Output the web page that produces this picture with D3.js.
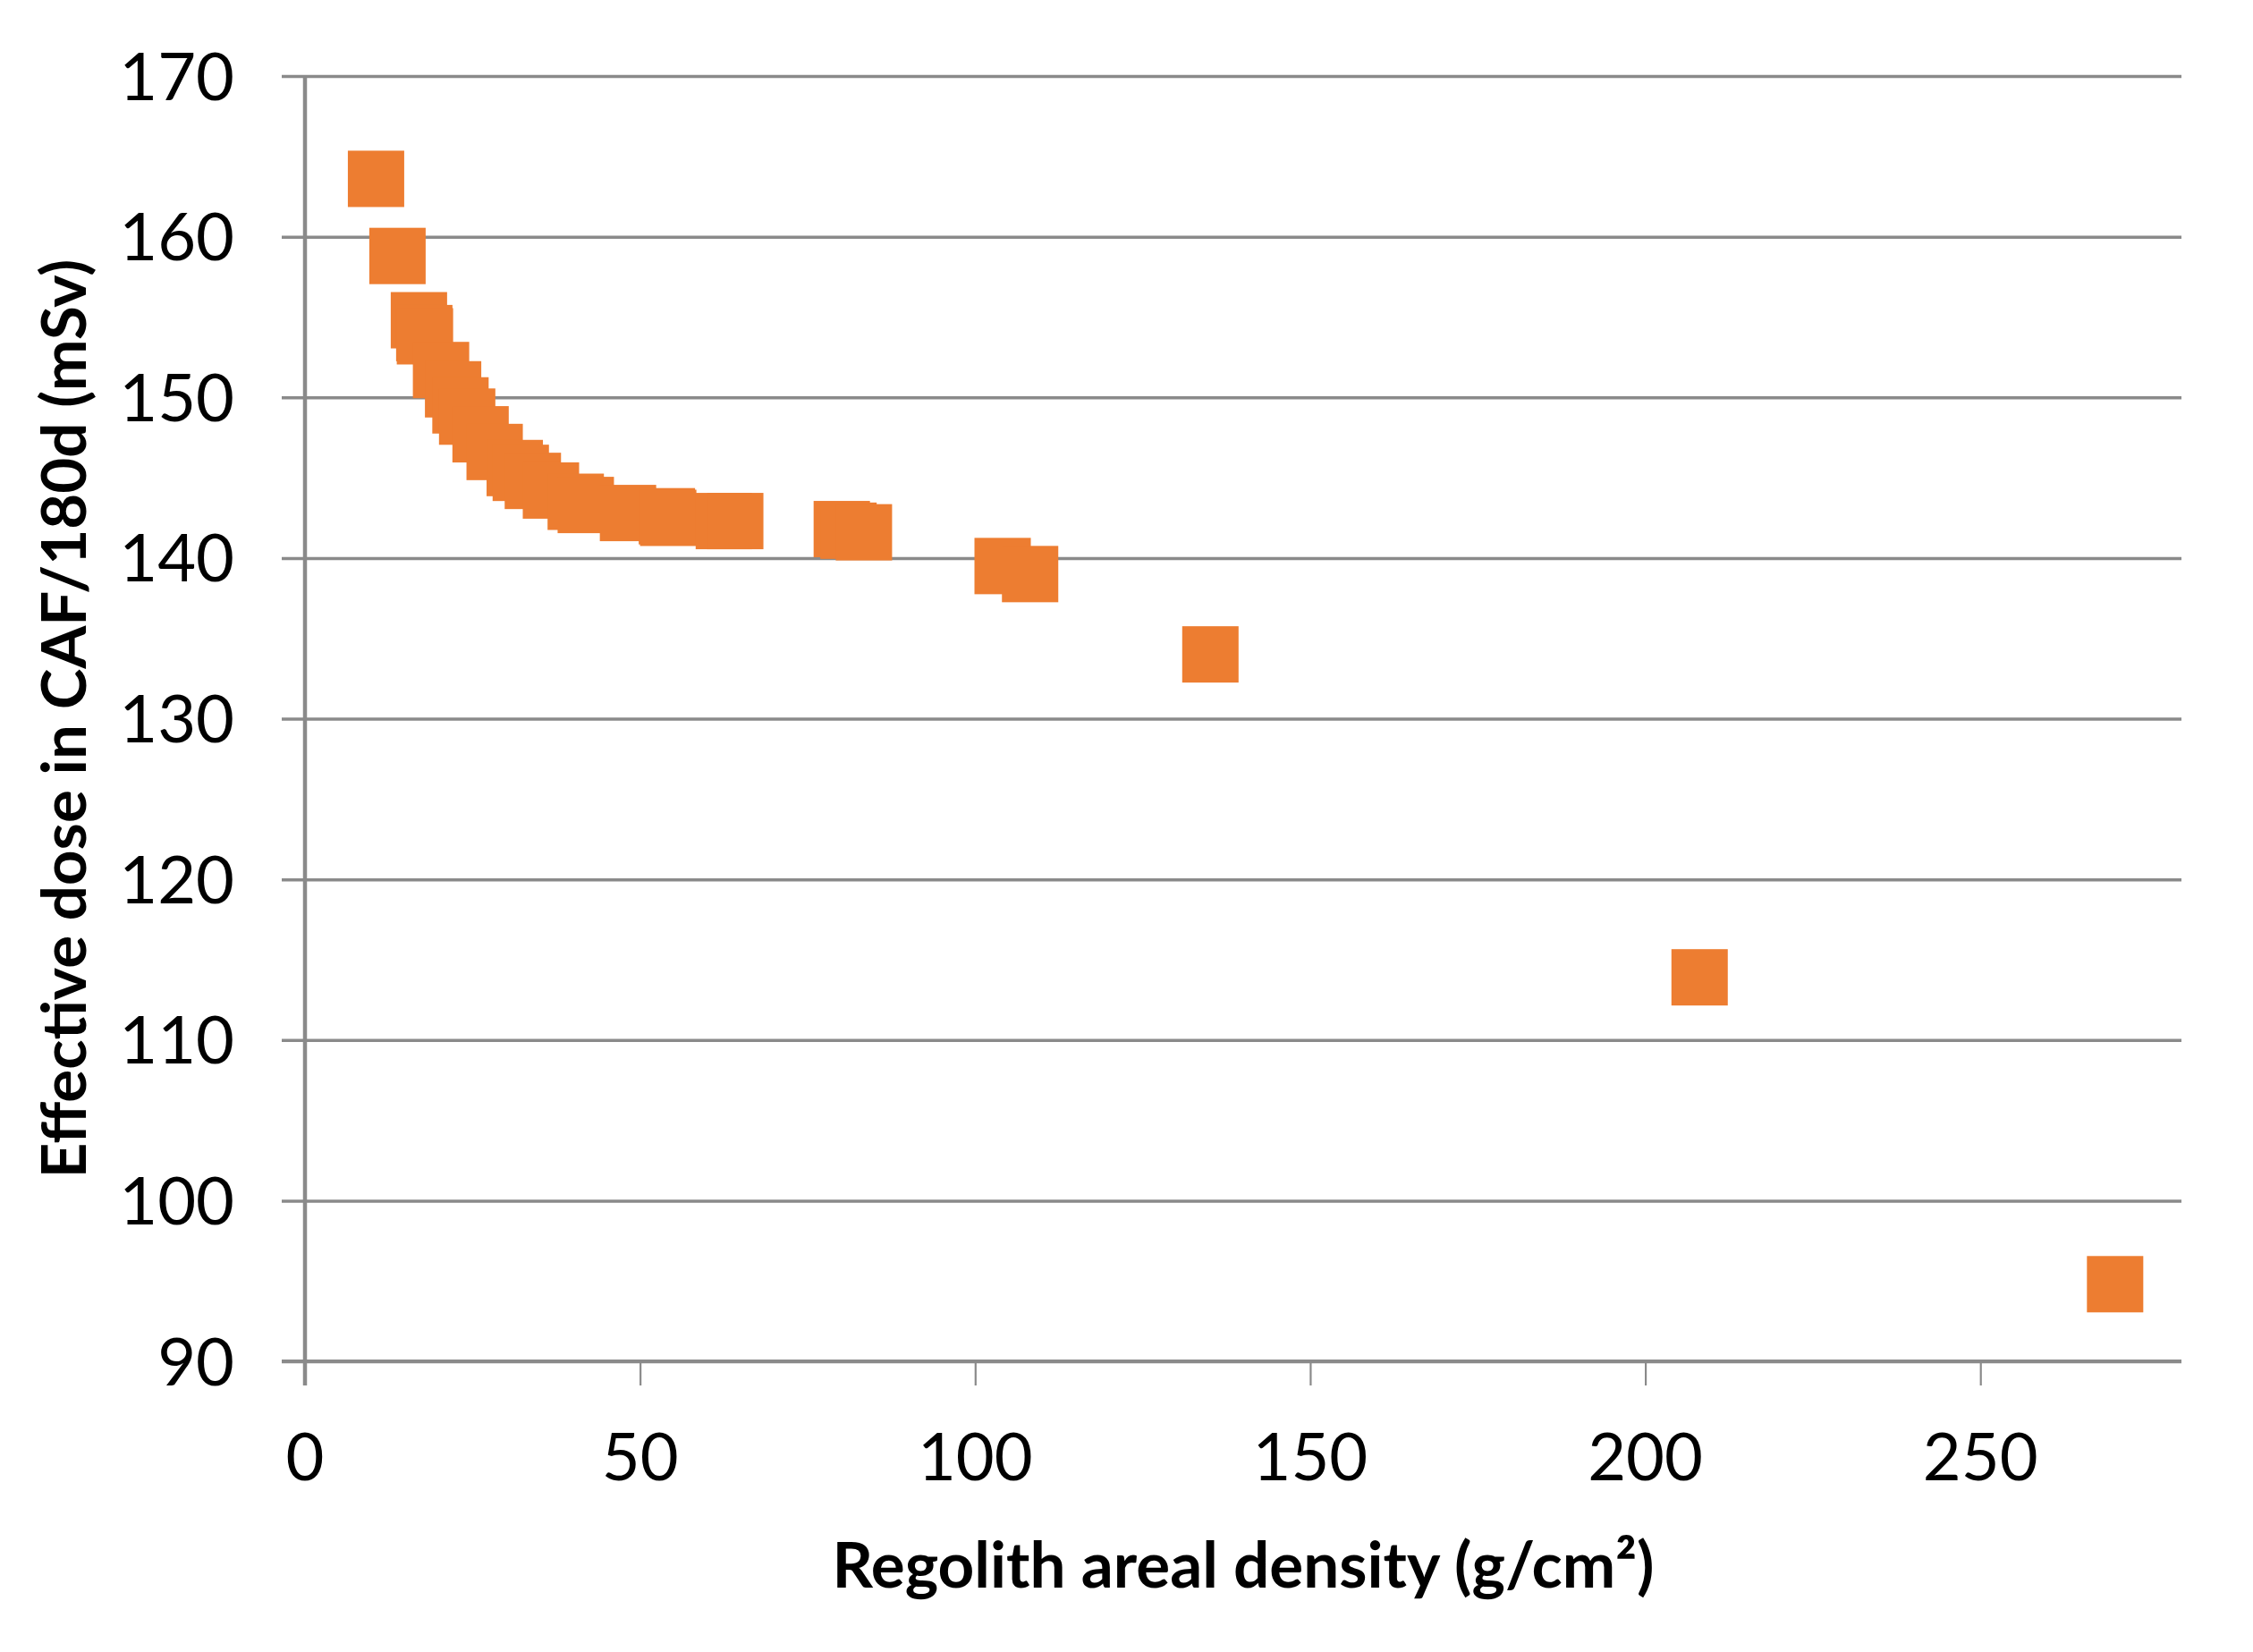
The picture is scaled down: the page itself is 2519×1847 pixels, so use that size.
<!DOCTYPE html>
<html>
<head>
<meta charset="utf-8">
<script src="https://cdn.jsdelivr.net/npm/d3@7"></script>
<style>
  html, body { margin: 0; padding: 0; background: #fff; }
  svg { display: block; }
</style>
</head>
<body>
<svg id="chart" width="2519" height="1847"></svg>
<script>
// ---- data ----
const densityX = [10.6, 13.8, 17.0, 17.8, 17.9, 20.3, 22.1, 23.2, 24.2, 26.2,
                  28.3, 31.3, 32.2, 34.0, 36.7, 40.4, 41.9, 48.2, 54.0, 54.2,
                  62.5, 64.2, 80.1, 81.1, 83.4, 104.1, 108.2, 135.1, 208.1, 270.1];
const doseY    = [163.6, 158.8, 154.8, 154.0, 153.8, 151.7, 150.5, 149.5, 148.8, 147.7,
                  146.6, 145.6, 145.3, 144.8, 144.2, 143.5, 143.3, 142.8, 142.6, 142.5,
                  142.3, 142.3, 141.8, 141.7, 141.6, 139.5, 139.0, 134.0, 113.9, 94.8];
const xTicks = [0, 50, 100, 150, 200, 250];
const yTicks = [90, 100, 110, 120, 130, 140, 150, 160, 170];
const xTitle = "Regolith areal density (g/cm\u00B2)";
const yTitle = "Effective dose in CAF/180d (mSv)";

// ---- layout ----
const W = 2519, H = 1847;
const m = { left: 341, right: W - 2439, top: 85, bottom: H - 1522 };
const FONT = "Lato, 'Open Sans', 'Noto Sans', sans-serif";
const GRID = "#8a8a8a";
const ORANGE = "#ED7D31";
const MS = 63; // marker size

const svg = d3.select("#chart");
svg.append("rect").attr("width", W).attr("height", H).attr("fill", "#fff");

const x = d3.scaleLinear().domain([0, 280]).range([m.left, W - m.right]);
const y = d3.scaleLinear().domain([90, 170]).range([H - m.bottom, m.top]);

// horizontal gridlines (extend left as ticks)
const gy = svg.append("g").attr("transform", `translate(${W - m.right},0)`);
gy.call(d3.axisLeft(y).tickValues(yTicks).tickSize(W - m.right - m.left + 26).tickFormat(""));
gy.select(".domain").remove();
gy.selectAll(".tick line").attr("stroke", GRID).attr("stroke-width", 3.5);

// y tick labels
svg.append("g").selectAll("text").data(yTicks).join("text")
  .attr("x", 262).attr("y", d => y(d) + 26.5)
  .attr("text-anchor", "end")
  .attr("font-family", FONT).attr("font-size", 74).attr("fill", "#000")
  .text(d => d);

// x axis ticks
const gx = svg.append("g").attr("transform", `translate(0,${H - m.bottom})`);
gx.call(d3.axisBottom(x).tickValues(xTicks).tickSize(27).tickFormat(""));
gx.select(".domain").remove();
gx.selectAll(".tick line").attr("stroke", GRID).attr("stroke-width", 2.2);

// x tick labels
svg.append("g").selectAll("text").data(xTicks).join("text")
  .attr("x", d => x(d)).attr("y", 1655)
  .attr("text-anchor", "middle")
  .attr("font-family", FONT).attr("font-size", 74).attr("fill", "#000")
  .text(d => d);

// axis lines
svg.append("line")
  .attr("x1", x(0)).attr("x2", x(0))
  .attr("y1", y(170)).attr("y2", H - m.bottom + 27)
  .attr("stroke", GRID).attr("stroke-width", 4.5);
svg.append("line")
  .attr("x1", x(0) - 26).attr("x2", W - m.right)
  .attr("y1", y(90)).attr("y2", y(90))
  .attr("stroke", GRID).attr("stroke-width", 4);

// markers
const pts = densityX.map((d, i) => ({ x: d, y: doseY[i] }));
svg.append("g").selectAll("rect").data(pts).join("rect")
  .attr("x", d => x(d.x) - MS / 2)
  .attr("y", d => y(d.y) - MS / 2)
  .attr("width", MS).attr("height", MS)
  .attr("fill", ORANGE);

// axis titles
svg.append("text")
  .attr("x", (m.left + W - m.right) / 2).attr("y", 1775)
  .attr("text-anchor", "middle")
  .attr("font-family", FONT).attr("font-weight", "bold").attr("font-size", 71).attr("fill", "#000")
  .text(xTitle);

svg.append("text")
  .attr("transform", `translate(96,${(m.top + H - m.bottom) / 2}) rotate(-90)`)
  .attr("text-anchor", "middle")
  .attr("font-family", FONT).attr("font-weight", "bold").attr("font-size", 69).attr("fill", "#000")
  .text(yTitle);
</script>
</body>
</html>
